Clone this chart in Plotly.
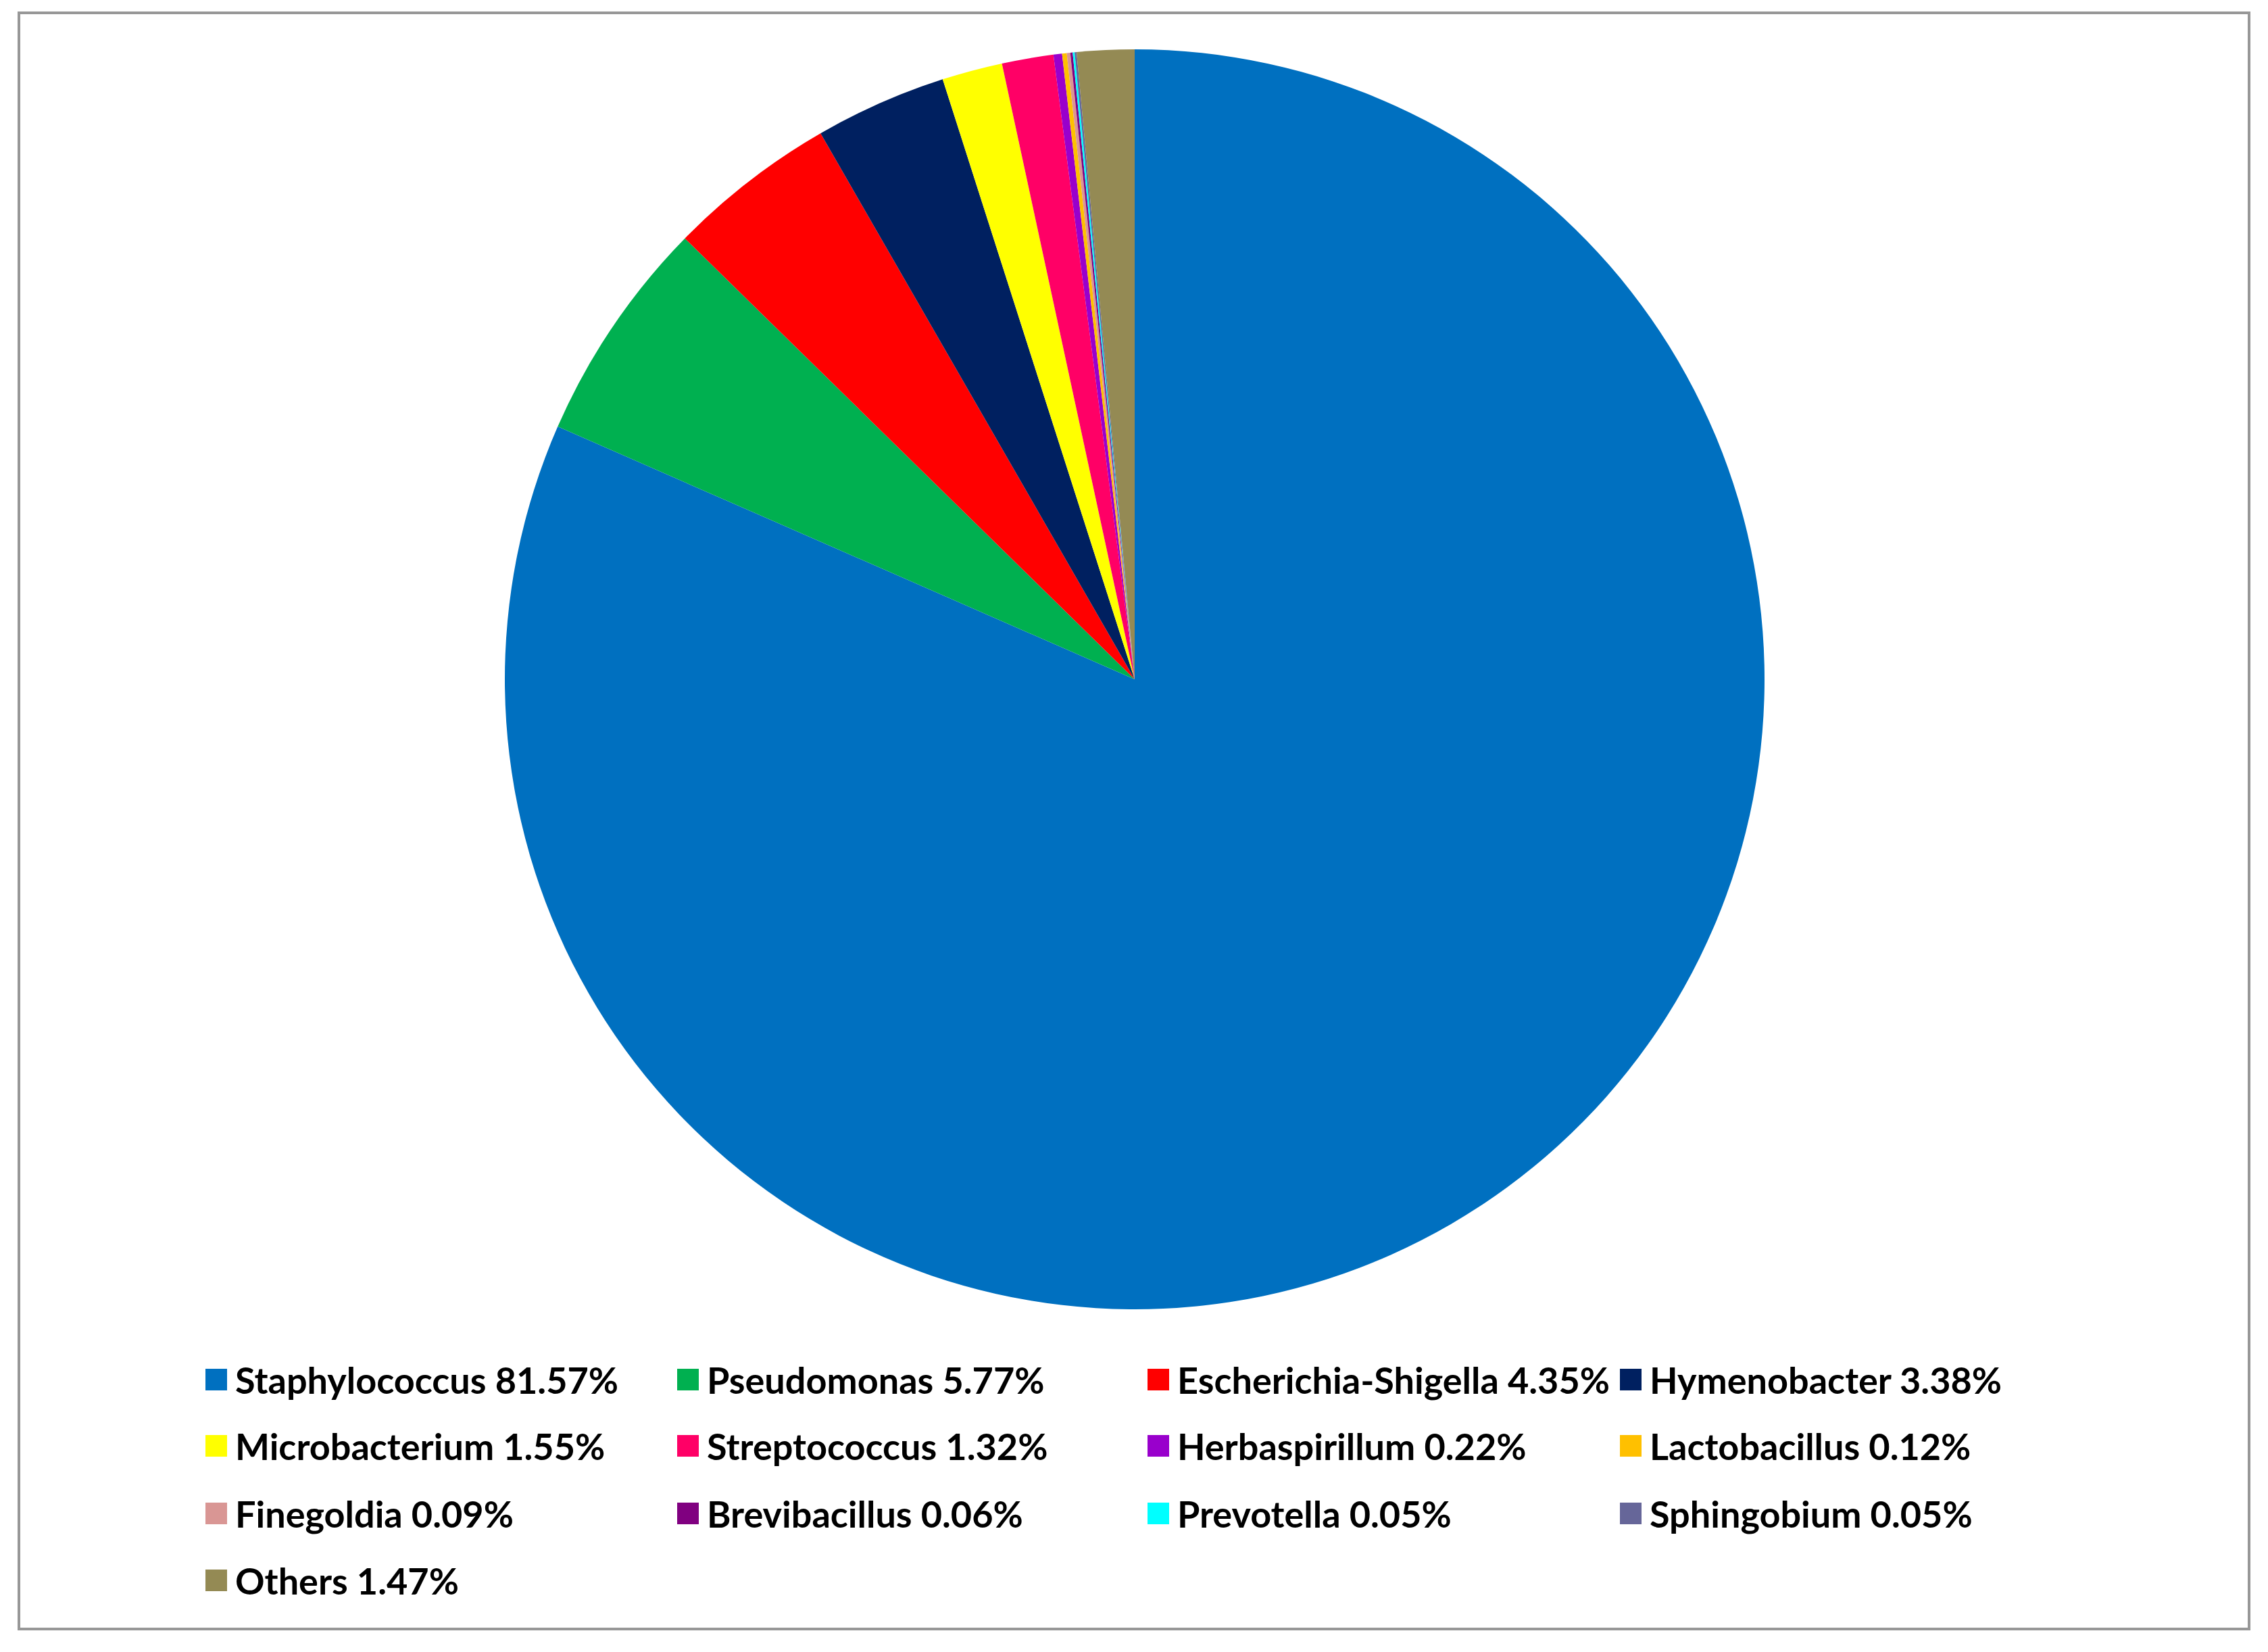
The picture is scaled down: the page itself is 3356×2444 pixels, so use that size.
import plotly.graph_objects as go

W, H = 3356, 2444

genera = ["Staphylococcus", "Pseudomonas", "Escherichia-Shigella", "Hymenobacter",
          "Microbacterium", "Streptococcus", "Herbaspirillum", "Lactobacillus",
          "Finegoldia", "Brevibacillus", "Prevotella", "Sphingobium", "Others"]
percent = [81.57, 5.77, 4.35, 3.38, 1.55, 1.32, 0.22, 0.12, 0.09, 0.06, 0.05, 0.05, 1.47]
colors = ["#0070C0", "#00B050", "#FF0000", "#002060", "#FFFF00", "#FF0066", "#9900CC",
          "#FFC000", "#D99694", "#800080", "#00FFFF", "#666699", "#948A54"]

legend_text = [f"{g} {p:.2f}%" for g, p in zip(genera, percent)]

# pie geometry (pixels)
cx, cy, r = 1679, 1005, 932

fig = go.Figure()
fig.add_trace(go.Pie(
    labels=genera, values=percent, sort=False, direction="clockwise", rotation=0,
    marker=dict(colors=colors, line=dict(width=0)),
    textinfo="none", hoverinfo="label+percent", showlegend=False,
    domain=dict(x=[(cx - r) / W, (cx + r) / W], y=[1 - (cy + r) / H, 1 - (cy - r) / H]),
))

shapes = []
annotations = []
col_x = [304, 1002, 1698, 2397]
row_y = [2041, 2139, 2239, 2338]
sym = 32
for i, (txt, c) in enumerate(zip(legend_text, colors)):
    row, col = divmod(i, 4)
    x0 = col_x[col]
    yc = row_y[row]
    shapes.append(dict(type="rect", xref="paper", yref="paper",
                       x0=x0 / W, x1=(x0 + sym) / W,
                       y0=1 - (yc + sym / 2) / H, y1=1 - (yc - sym / 2) / H,
                       fillcolor=c, line=dict(width=0)))
    annotations.append(dict(text=f"<b>{txt}</b>", xref="paper", yref="paper",
                            x=(x0 + sym + 10) / W, y=1 - yc / H,
                            xanchor="left", yanchor="middle", showarrow=False,
                            font=dict(family="Lato, Calibri, sans-serif", size=54, color="#000000")))

# outer frame
shapes.append(dict(type="rect", xref="paper", yref="paper",
                   x0=28 / W, x1=3328 / W, y0=1 - 2410 / H, y1=1 - 19 / H,
                   line=dict(color="#979797", width=4), fillcolor="rgba(0,0,0,0)"))

fig.update_layout(
    width=W, height=H, margin=dict(l=0, r=0, t=0, b=0),
    paper_bgcolor="white", plot_bgcolor="white",
    shapes=shapes, annotations=annotations, showlegend=False,
)

fig.write_html("out.html")
